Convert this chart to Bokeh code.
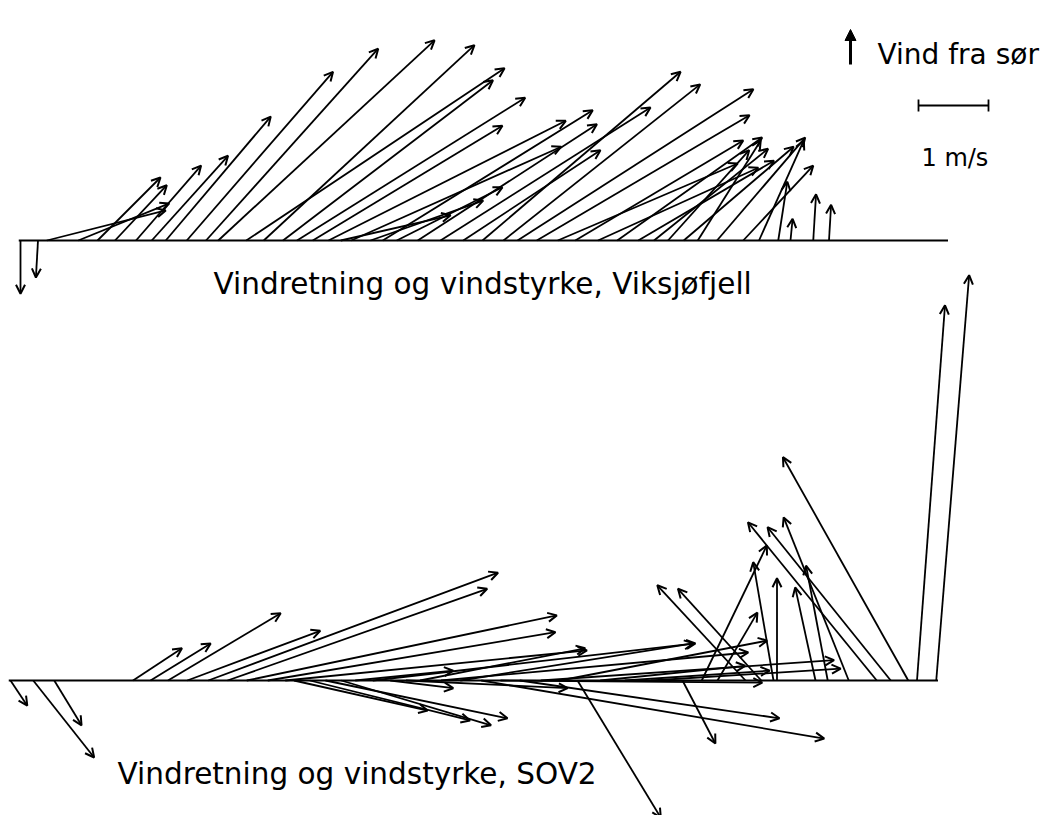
from bokeh.plotting import figure
from bokeh.models import Range1d, ColumnDataSource, Arrow, OpenHead, NormalHead
from bokeh.embed import file_html
from bokeh.resources import INLINE
from bokeh.core.properties import value

# ---- Data: Viksjøfjell (top) : time [h], u (east) [m/s], v (north) [m/s]
top_hours = [0.0, 1.0, 1.5, 3.3, 4.4, 5.4, 6.6, 7.5, 8.3, 9.5,
             10.6, 11.3, 12.9, 13.9, 15.0, 15.8, 16.7, 17.6, 18.3, 18.9,
             20.0, 20.7, 21.5, 22.7, 24.0, 25.3, 26.4, 27.6, 28.4, 29.5,
             30.7, 31.7, 33.0, 34.1, 35.3, 36.2, 37.0, 37.9, 38.7, 39.8,
             41.3, 42.2, 43.3, 44.0, 45.3, 46.2]
top_u = [0.00, -0.03, 1.70, 1.30, 0.90, 0.74, 0.93, 1.09, 1.50, 2.09,
         2.46, 3.09, 3.69, 3.01, 3.00, 3.26, 2.71, 3.39, 1.57, 3.00,
         1.61, 3.00, 1.51, 2.56, 3.00, 1.96, 2.83, 2.81, 3.37, 3.04,
         2.57, 2.40, 2.29, 2.07, 1.94, 1.63, 1.16, 1.57, 0.90, 1.26,
         1.00, 0.64, 0.13, 0.03, 0.04, 0.03]
top_v = [-0.76, -0.53, 0.43, 0.53, 0.90, 0.79, 1.07, 1.21, 1.77, 2.41,
         2.74, 2.86, 2.46, 2.79, 2.29, 2.04, 1.64, 1.71, 0.36, 1.34,
         0.57, 1.86, 0.76, 1.66, 1.90, 1.29, 2.41, 2.23, 2.16, 1.79,
         1.10, 1.43, 1.04, 1.47, 1.14, 1.31, 1.29, 1.34, 1.43, 1.47,
         1.07, 1.43, 0.84, 0.31, 0.66, 0.51]

# ---- Data: SOV2 (bottom)
bot_hours = [0.0, 1.3, 2.5, 7.0, 8.0, 9.0, 10.1, 11.3, 12.4, 13.5,
             14.7, 15.7, 16.2, 17.1, 18.0, 18.9, 19.7, 20.7, 21.7, 22.6,
             23.4, 24.6, 25.7, 26.9, 28.0, 29.1, 30.3, 31.4, 32.4, 33.7,
             35.1, 36.6, 38.4, 39.5, 40.4, 42.0, 42.9, 43.6, 43.8, 46.0,
             46.7, 47.9, 49.5, 50.3, 51.3, 51.8, 52.9]
bot_u = [0.24, 0.87, 0.39, 0.70, 0.86, 1.61, 1.90, 4.14, 3.71, 4.43,
         4.11, 4.31, 1.91, 2.29, 2.60, 2.14, 1.40, 4.61, 0.90, 2.31,
         2.36, 4.39, 3.33, 4.90, 3.74, 3.71, 4.19, 2.96, 1.19, 2.07,
         2.07, 2.71, 0.47, 0.93, 0.57, -1.26, -1.19, -0.29, 0.00, -0.29,
         -0.31, -0.93, -1.84, -1.76, -1.79, 0.40, 0.47]
bot_v = [-0.36, -1.10, -0.64, 0.46, 0.53, 0.96, 0.71, 1.54, 1.31, 0.93,
         0.69, 0.43, -0.43, -0.57, -0.54, -0.64, 0.14, 0.53, -0.11, -0.11,
         0.46, 0.40, 0.53, -0.83, -0.03, -0.54, 0.29, 0.57, -1.96, 0.21,
         0.14, 0.17, -0.90, 1.93, 0.97, 1.36, 1.31, 1.69, 1.46, 1.33,
         1.64, 2.33, 2.26, 2.19, 3.19, 5.36, 5.79]

top_title = "Vindretning og vindstyrke, Viksjøfjell"
bot_title = "Vindretning og vindstyrke, SOV2"
legend_label = "Vind fra sør"
scale_label = "1 m/s"
scale_value = 1.0      # m/s
span_hours = 53.0

# ---- Layout (page pixels)
W, H = 1048, 815
PX_PER_HOUR = 17.5
PX_PER_MS = 70.0
TOP_X0, TOP_Y0 = 20.0, 240.0
BOT_X0, BOT_Y0 = 10.0, 680.0
FONT = value("DejaVu Sans")
LW = 1.8

p = figure(width=W, height=H, output_backend="svg", toolbar_location=None,
           x_range=Range1d(0, W), y_range=Range1d(H, 0),
           min_border=0, outline_line_color=None)
p.axis.visible = False
p.grid.visible = False
p.background_fill_color = "white"
p.border_fill_color = "white"


def panel(hours, u, v, x0, y0):
    xs = [x0 + t * PX_PER_HOUR for t in hours]
    ys = [y0] * len(hours)
    xe = [x + uu * PX_PER_MS for x, uu in zip(xs, u)]
    ye = [y0 - vv * PX_PER_MS for vv in v]
    src = ColumnDataSource(dict(xs=xs, ys=ys, xe=xe, ye=ye))
    p.add_layout(Arrow(end=OpenHead(size=9, line_width=2, line_color="black"),
                       x_start="xs", y_start="ys", x_end="xe", y_end="ye",
                       line_width=LW, line_color="black", source=src))
    # baseline
    p.line([x0 - 0.1 * PX_PER_HOUR, x0 + span_hours * PX_PER_HOUR], [y0, y0],
           line_color="black", line_width=2.2)


panel(top_hours, top_u, top_v, TOP_X0, TOP_Y0)
panel(bot_hours, bot_u, bot_v, BOT_X0, BOT_Y0)

# titles
p.text(x=[213], y=[283], text=[top_title], text_font=FONT, text_font_size="29.5px",
       text_color="black", text_baseline="alphabetic", text_align="left")
p.text(x=[117], y=[773], text=[bot_title], text_font=FONT, text_font_size="29.5px",
       text_color="black", text_baseline="alphabetic", text_align="left")

# legend: north arrow
p.add_layout(Arrow(end=NormalHead(size=11, fill_color="black", line_color="black", line_width=1),
                   x_start=850, y_start=64, x_end=850, y_end=29,
                   line_width=3, line_color="black"))
p.text(x=[877], y=[54], text=[legend_label], text_font=FONT, text_font_size="28px",
       text_color="black", text_baseline="alphabetic", text_align="left")

# scale bar
sx0 = 918
sx1 = sx0 + scale_value * PX_PER_MS
p.segment(x0=[sx0, sx0, sx1], y0=[105, 99, 99], x1=[sx1, sx0, sx1], y1=[105, 111, 111],
          line_color="black", line_width=1.8)
p.text(x=[921], y=[157], text=[scale_label], text_font=FONT, text_font_size="24px",
       text_color="black", text_baseline="alphabetic", text_align="left")

open("out.html", "w").write(file_html(p, INLINE))
